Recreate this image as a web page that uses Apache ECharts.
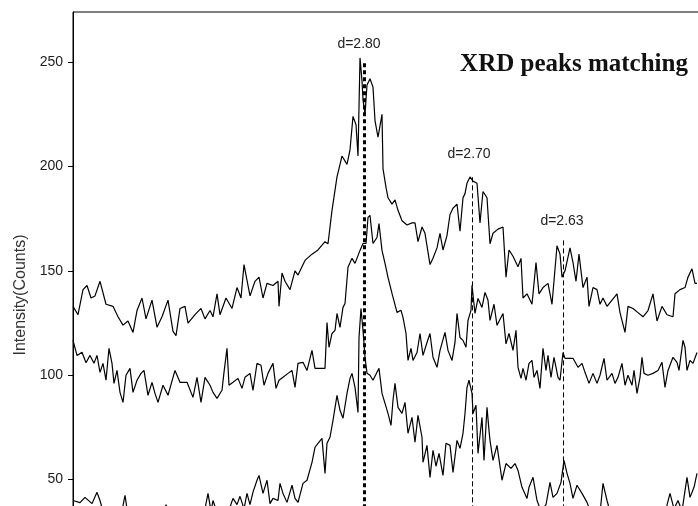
<!DOCTYPE html>
<html>
<head>
<meta charset="utf-8">
<script src="https://cdn.jsdelivr.net/npm/echarts@6/dist/echarts.min.js"></script>
<style>
html,body{margin:0;padding:0;background:#fff;}
#chart{width:698px;height:506px;}
</style>
</head>
<body>
<div id="chart"></div>
<script>
// 2-theta (deg) , intensity (counts)
const topCurve = [
[29.05,133],[29.10,129],[29.15,141],[29.19,143],[29.23,137],[29.27,138],[29.32,145],[29.38,134],[29.45,133],[29.50,128],[29.55,124],[29.60,126],[29.65,120.5],[29.69,131],[29.74,137],[29.78,127],[29.84,136],[29.89,123],[29.94,128],[30.00,136],[30.05,121],[30.08,119],[30.12,132],[30.17,133],[30.20,125],[30.27,129],[30.33,132],[30.37,127],[30.42,131],[30.45,128],[30.49,139],[30.52,129],[30.58,137],[30.64,132],[30.69,142],[30.73,137],[30.76,153],[30.82,138],[30.87,145],[30.91,147],[30.95,137],[30.99,144],[31.05,143],[31.10,145],[31.11,133],[31.14,149],[31.17,145],[31.22,141],[31.27,150],[31.30,148],[31.37,155],[31.44,158],[31.50,160],[31.57,164],[31.60,163],[31.64,179],[31.69,195],[31.74,205],[31.79,201],[31.82,208],[31.85,224],[31.88,220],[31.90,205],[31.92,252],[31.94,241],[31.95,232],[31.97,225],[31.99,239],[32.02,242],[32.05,238],[32.07,222],[32.10,214],[32.14,225],[32.15,199],[32.18,190],[32.20,185],[32.24,182],[32.27,184],[32.30,179],[32.34,174],[32.39,172],[32.44,173],[32.47,173],[32.50,164],[32.54,171],[32.57,168],[32.62,153],[32.65,156],[32.69,161],[32.72,168],[32.75,160],[32.79,167],[32.82,177],[32.85,180],[32.89,182],[32.92,169],[32.95,185],[32.97,187],[32.99,192],[33.02,195],[33.05,193],[33.09,192],[33.12,173],[33.15,188],[33.19,185],[33.22,163],[33.25,168],[33.30,170],[33.35,171],[33.38,147],[33.41,160],[33.45,157],[33.50,152],[33.53,156],[33.55,137],[33.59,139],[33.64,134],[33.68,154],[33.71,139],[33.75,142],[33.80,144],[33.84,134],[33.89,162],[33.92,158],[33.94,147],[33.97,150],[34.02,161],[34.05,154],[34.08,145],[34.11,158],[34.15,142],[34.19,147],[34.21,133],[34.25,142],[34.29,141],[34.32,134],[34.35,137],[34.39,133],[34.44,136],[34.49,139],[34.52,130],[34.57,120.5],[34.60,133],[34.65,132],[34.70,130],[34.75,128],[34.80,131],[34.85,139],[34.89,126],[34.94,133],[34.99,129],[35.05,128],[35.07,139],[35.12,141],[35.17,142],[35.20,147],[35.24,151],[35.27,144],[35.29,144]
];
const middleCurve = [
[29.05,116.7],[29.09,109.5],[29.14,111],[29.18,106],[29.22,109.5],[29.26,105.7],[29.29,109.5],[29.32,101.4],[29.35,105.7],[29.38,97.6],[29.41,112.9],[29.44,105.7],[29.46,96.1],[29.49,102.3],[29.52,91.8],[29.55,87],[29.58,100],[29.62,103.3],[29.65,91.8],[29.69,97.6],[29.73,100.9],[29.76,102.3],[29.80,90.4],[29.84,96.6],[29.87,91.3],[29.90,87],[29.95,95.2],[30.00,90.4],[30.07,102.3],[30.12,96.6],[30.19,96.6],[30.25,89.4],[30.29,99],[30.33,87],[30.37,99],[30.42,95.2],[30.45,91.8],[30.49,88.9],[30.54,92.8],[30.56,101.4],[30.59,112.9],[30.61,95.2],[30.65,96.6],[30.70,98.5],[30.74,93.7],[30.77,99],[30.82,100.9],[30.85,92.8],[30.89,105.7],[30.93,104.8],[30.96,95.2],[31.00,100.9],[31.05,105.7],[31.08,93.7],[31.11,97.6],[31.15,99],[31.20,100.9],[31.24,102.3],[31.27,94.2],[31.30,105.7],[31.35,106.2],[31.39,102.3],[31.44,111.9],[31.47,103.3],[31.52,103.3],[31.57,103.3],[31.59,125.3],[31.61,113.4],[31.64,120],[31.67,121.5],[31.69,129.6],[31.72,122.9],[31.75,132.5],[31.77,134.4],[31.80,151.7],[31.84,156],[31.87,153.6],[31.92,159.8],[31.95,163.1],[31.98,163.1],[32.00,175.6],[32.02,176.6],[32.05,163.1],[32.09,166],[32.11,172.6],[32.14,159.8],[32.17,153.6],[32.20,146.9],[32.24,139.2],[32.29,130.1],[32.33,131.1],[32.35,127.7],[32.38,120],[32.40,107.1],[32.43,112.9],[32.45,107.1],[32.49,110.9],[32.52,120],[32.55,109.5],[32.59,115.7],[32.62,120],[32.65,108.6],[32.69,103.8],[32.72,111.9],[32.77,120.5],[32.80,111.9],[32.84,107.1],[32.87,115.7],[32.89,129.6],[32.92,118.1],[32.95,116.7],[32.98,113.4],[33.00,126.3],[33.03,131.1],[33.04,143.1],[33.07,129.6],[33.10,136.8],[33.14,132.5],[33.17,139.7],[33.20,135.9],[33.22,126.3],[33.26,134],[33.29,123.9],[33.35,129.6],[33.38,115],[33.41,120],[33.45,111.9],[33.48,121.5],[33.50,103.8],[33.53,98.5],[33.55,103.3],[33.58,97.6],[33.61,105.7],[33.64,107.1],[33.66,99],[33.69,102.3],[33.72,93.7],[33.75,112.9],[33.78,102.3],[33.80,109.5],[33.83,99],[33.86,108.6],[33.90,99],[33.92,97.6],[33.95,110.9],[33.97,108.1],[34.05,108.1],[34.10,103.8],[34.14,105.7],[34.17,101.4],[34.21,96.1],[34.25,100.9],[34.29,96.1],[34.32,100],[34.36,108.1],[34.39,97.6],[34.44,100.9],[34.47,96.1],[34.50,99],[34.54,105.7],[34.57,95.2],[34.60,100],[34.64,95.2],[34.66,102.3],[34.69,91.3],[34.72,99],[34.74,108.6],[34.76,100.9],[34.80,100],[34.85,100.9],[34.90,102.3],[34.94,106.2],[34.97,94.2],[35.00,102.3],[35.05,108.6],[35.09,106.2],[35.11,102.3],[35.15,116.7],[35.17,113.4],[35.19,102.3],[35.22,107.1],[35.25,105.7],[35.29,110.9]
];
const bottomCurve = [
[29.05,40],[29.12,39],[29.17,41.5],[29.24,38.5],[29.29,43.9],[29.32,40],[29.36,33],[29.40,35],[29.44,31],[29.48,34],[29.52,30],[29.57,42.5],[29.60,33],[29.65,30],[29.70,34],[29.75,31],[29.80,35],[29.85,29],[29.90,33],[29.95,31],[29.98,38],[30.02,32],[30.07,29],[30.12,34],[30.17,31],[30.22,35],[30.27,30],[30.32,34],[30.37,36],[30.40,43.4],[30.43,35],[30.45,40],[30.50,33],[30.55,37],[30.60,34],[30.65,41],[30.69,38],[30.72,42],[30.76,36],[30.79,43.4],[30.82,38],[30.85,44],[30.89,49.7],[30.91,52],[30.95,43.4],[30.99,49.7],[31.02,38.5],[31.05,41],[31.10,40],[31.12,48.2],[31.15,43.4],[31.19,39.1],[31.24,47.3],[31.27,41],[31.30,39.1],[31.35,48.2],[31.39,49.7],[31.44,58.3],[31.47,65.5],[31.50,67.4],[31.54,69.8],[31.55,64],[31.57,53],[31.59,67.4],[31.62,70.3],[31.65,78.4],[31.69,90.4],[31.72,83.2],[31.75,79.4],[31.79,91.3],[31.82,98.5],[31.84,100.9],[31.87,94.2],[31.90,82.2],[31.91,118.1],[31.93,132],[31.95,121.5],[31.97,108.6],[31.99,100.9],[32.02,100],[32.05,97.6],[32.09,101.4],[32.11,103.3],[32.14,91.3],[32.17,86.5],[32.20,81.7],[32.23,76],[32.25,88],[32.27,96.1],[32.30,84.6],[32.34,81.7],[32.37,87],[32.40,72.2],[32.44,79.8],[32.47,67.9],[32.50,80.8],[32.54,70.3],[32.55,58.3],[32.59,66.4],[32.62,51.1],[32.65,64],[32.68,56.4],[32.71,62.6],[32.75,52],[32.78,67.4],[32.82,66.4],[32.85,53.5],[32.89,68.8],[32.92,65],[32.95,72.2],[32.97,81.7],[32.99,94.2],[33.01,97.6],[33.04,91.3],[33.05,81.7],[33.08,85.6],[33.10,62.6],[33.14,79.8],[33.16,59.2],[33.19,84.6],[33.21,73.6],[33.22,68.8],[33.25,59.2],[33.29,66.4],[33.34,49.7],[33.38,57.7],[33.43,55.4],[33.47,57.7],[33.50,54.4],[33.54,46.3],[33.59,41],[33.61,46.3],[33.65,51.1],[33.69,40],[33.73,35],[33.78,38],[33.82,48.7],[33.85,41.5],[33.89,43.4],[33.93,48.7],[33.96,59.2],[33.99,53],[34.02,48.2],[34.05,41],[34.09,47.3],[34.14,43.4],[34.19,39.1],[34.24,33],[34.29,36],[34.32,34],[34.35,48.2],[34.39,40],[34.43,33],[34.48,30],[34.52,35],[34.57,31],[34.62,34],[34.67,29],[34.72,33],[34.77,30],[34.82,35],[34.87,32],[34.92,36],[34.97,34],[35.02,43.4],[35.06,36],[35.10,40],[35.14,35],[35.19,51.1],[35.22,41.5],[35.26,46.3],[35.29,53]
];
// matched peaks: label, 2-theta position, top of the marker line
const peakLabels = ['d=2.80', 'd=2.70', 'd=2.63'];
const peakTheta = [31.96, 33.04, 33.95];
const peakTop = [249.4, 194.8, 164.6];
const yTicks = [0, 50, 100, 150, 200, 250];

const chart = echarts.init(document.getElementById('chart'), null, {renderer: 'canvas'});

const peakStyles = [
  {width: 3, type: [4, 3], dist: 12, offset: [-5, 0]},
  {width: 1, type: [5, 3], dist: 16, offset: [-3, 0]},
  {width: 1, type: [5, 3], dist: 12, offset: [-1, 0]}
];
const markData = peakLabels.map((lab, i) => [
  {
    name: lab,
    coord: [peakTheta[i], peakTop[i]],
    lineStyle: {color: '#000', width: peakStyles[i].width, type: peakStyles[i].type},
    label: {show: true, position: 'start', formatter: '{b}', distance: peakStyles[i].dist,
            offset: peakStyles[i].offset,
            fontFamily: 'Liberation Sans', fontSize: 14, color: '#222'}
  },
  {coord: [peakTheta[i], 0]}
]);

const lineSeries = (data) => ({
  type: 'line', data: data, symbol: 'none', smooth: false,
  lineStyle: {color: '#000', width: 1.2}, silent: true, animation: false
});

const s1 = lineSeries(topCurve);
s1.markLine = {silent: true, symbol: 'none', animation: false, data: markData};

chart.setOption({
  animation: false,
  backgroundColor: '#fff',
  grid: {left: 73, top: 12, width: 640, height: 572, show: true, borderColor: '#000', borderWidth: 1,
         containLabel: false, outerBoundsMode: 'none'},
  xAxis: {type: 'value', min: 29.05, max: 35.45, show: false},
  yAxis: {
    type: 'value', min: 0, max: 274, interval: 50,
    axisLine: {show: true, lineStyle: {color: '#000', width: 1}},
    axisTick: {show: true, inside: false, length: 5, lineStyle: {color: '#000'}},
    splitLine: {show: false},
    axisLabel: {
      fontFamily: 'Liberation Sans', fontSize: 14, color: '#222', margin: 10,
      showMaxLabel: false,
      formatter: v => (yTicks.indexOf(v) >= 0 ? String(v) : '')
    }
  },
  graphic: [
    {type: 'text', x: 21, y: 295, rotation: Math.PI / 2,
     style: {text: 'Intensity(Counts)', fontFamily: 'Liberation Sans', fontSize: 16, fill: '#333', align: 'center', verticalAlign: 'middle'}},
    {type: 'text', x: 574, y: 65,
     style: {text: 'XRD peaks matching', fontFamily: 'Liberation Serif', fontWeight: 'bold', fontSize: 25, fill: '#111', align: 'center', verticalAlign: 'middle'}}
  ],
  series: [s1, lineSeries(middleCurve), lineSeries(bottomCurve)]
});
</script>
</body>
</html>
